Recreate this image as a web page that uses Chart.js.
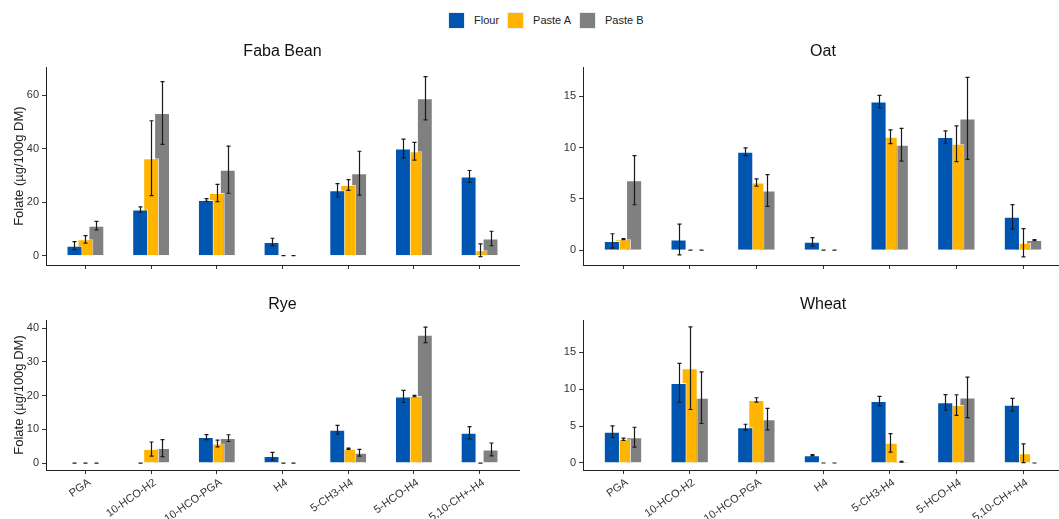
<!DOCTYPE html>
<html>
<head>
<meta charset="utf-8">
<script src="https://cdn.jsdelivr.net/npm/chart.js@4/dist/chart.umd.min.js"></script>
<style>
  html, body { margin: 0; padding: 0; background: #fff; width: 1059px; height: 519px; overflow: hidden; }
  canvas { position: absolute; }
  #legend { position: absolute; top: 12px; left: 448px; display: flex; align-items: center;
            font: 11px "Liberation Sans", Arial, sans-serif; color: #222; }
  .key { width: 17px; height: 17px; box-sizing: border-box; border: 1px solid #e8eef6; margin-right: 9px; }
  .lab { margin-right: 8px; line-height: 17px; }
</style>
</head>
<body>
<div id="legend"></div>
<script>
// Folate vitamers (x axis) and sample types (series)
const categories = ['PGA', '10-HCO-H2', '10-HCO-PGA', 'H4', '5-CH3-H4', '5-HCO-H4', '5,10-CH+-H4'];
const seriesNames = ['Flour', 'Paste A', 'Paste B'];
const seriesColors = ['#0055B0', '#FFB400', '#808080'];

// Faba Bean: means and standard deviations (µg/100g DM)
const fabaFlour    = [3.7, 17.2, 20.8, 5.1, 24.4, 40.0, 29.6];
const fabaFlourSd  = [1.5, 1.0, 0.5, 1.4, 2.5, 3.5, 2.2];
const fabaPasteA   = [6.1, 36.4, 23.4, 0, 26.4, 39.0, 2.0];
const fabaPasteASd = [1.4, 14.0, 3.2, 0, 2.0, 3.3, 2.4];
const fabaPasteB   = [11.2, 53.3, 32.1, 0, 30.8, 58.8, 6.4];
const fabaPasteBSd = [1.6, 11.7, 8.8, 0, 8.2, 8.1, 2.7];

// Oat
const oatFlour    = [0.9, 1.04, 9.6, 0.81, 14.5, 11.03, 3.25];
const oatFlourSd  = [0.7, 1.5, 0.37, 0.42, 0.6, 0.6, 1.2];
const oatPasteA   = [1.07, 0, 6.6, 0, 11.06, 10.38, 0.72];
const oatPasteASd = [0.05, 0, 0.35, 0, 0.67, 1.75, 1.37];
const oatPasteB   = [6.83, 0, 5.82, 0, 10.28, 12.85, 0.98];
const oatPasteBSd = [2.4, 0, 1.55, 0, 1.6, 4.0, 0.05];

// Rye
const ryeFlour    = [0, 0, 7.7, 2.07, 9.9, 19.75, 9.0];
const ryeFlourSd  = [0, 0, 0.75, 1.1, 1.3, 1.8, 1.8];
const ryePasteA   = [0, 4.15, 5.83, 0, 4.25, 19.85, 0];
const ryePasteASd = [0, 2.1, 1.0, 0, 0.2, 0.2, 0];
const ryePasteB   = [0, 4.44, 7.4, 0, 3.06, 38.0, 4.05];
const ryePasteBSd = [0, 2.5, 1.0, 0, 1.0, 2.3, 1.9];

// Wheat
const wheatFlour    = [4.23, 10.86, 4.86, 1.05, 8.4, 8.23, 7.9];
const wheatFlourSd  = [0.8, 2.65, 0.4, 0.08, 0.65, 1.05, 0.86];
const wheatPasteA   = [3.23, 12.86, 8.55, 0, 2.73, 7.86, 1.32];
const wheatPasteASd = [0.15, 5.6, 0.3, 0, 1.25, 1.4, 1.27];
const wheatPasteB   = [3.5, 8.86, 5.95, 0, 0.18, 8.9, 0];
const wheatPasteBSd = [1.35, 3.5, 1.45, 0, 0.05, 2.75, 0];

// Y tick labels per panel
const fabaTicks  = [0, 20, 40, 60];
const oatTicks   = [0, 5, 10, 15];
const ryeTicks   = [0, 10, 20, 30, 40];
const wheatTicks = [0, 5, 10, 15];

const yTitle = 'Folate (µg/100g DM)';
const FONT = '"Liberation Sans", Arial, sans-serif';
Chart.defaults.font.family = FONT;

// Legend
const legendEl = document.getElementById('legend');
seriesNames.forEach((name, i) => {
  const k = document.createElement('div');
  k.className = 'key';
  k.style.background = seriesColors[i];
  const t = document.createElement('div');
  t.className = 'lab';
  t.textContent = name;
  legendEl.appendChild(k);
  legendEl.appendChild(t);
});

// Mean ± SD whiskers drawn on top of each bar
const errorBars = {
  id: 'errorBars',
  afterDatasetsDraw(chart) {
    const { ctx } = chart;
    const y = chart.scales.y;
    ctx.save();
    ctx.strokeStyle = '#1a1a1a';
    ctx.lineWidth = 1.2;
    chart.data.datasets.forEach((ds, di) => {
      const meta = chart.getDatasetMeta(di);
      meta.data.forEach((bar, i) => {
        const v = ds.data[i].y, e = ds.errors[i];
        const x = Math.round(bar.x) + 0.5;
        const yTop = y.getPixelForValue(v + e);
        const yBot = y.getPixelForValue(v - e);
        const hw = 2;
        ctx.beginPath();
        ctx.moveTo(x, yTop); ctx.lineTo(x, yBot);
        ctx.moveTo(x - hw, yTop); ctx.lineTo(x + hw, yTop);
        ctx.moveTo(x - hw, yBot); ctx.lineTo(x + hw, yBot);
        ctx.stroke();
      });
    });
    ctx.restore();
  }
};

function makePanel(p) {
  const c = document.createElement('canvas');
  c.width = p.w; c.height = p.h;
  c.style.left = p.left + 'px';
  c.style.top = p.top + 'px';
  document.body.appendChild(c);

  // Dodged bars are a little wider than their spacing, so neighbours overlap
  // (Flour is drawn last and sits on top).
  const datasets = p.series.map((s, i) => ({
    label: seriesNames[i],
    data: s.values.map((v, j) => ({ x: j, y: v })),
    errors: s.sd,
    backgroundColor: seriesColors[i],
    borderColor: 'rgba(255,255,255,0.75)',
    borderWidth: 1,
    barPercentage: 1.45,
    categoryPercentage: 0.5
  }));

  new Chart(c, {
    type: 'bar',
    data: { datasets },
    plugins: [errorBars],
    options: {
      responsive: false,
      animation: false,
      devicePixelRatio: 1,
      layout: { padding: { left: 0, right: p.padR, top: 0, bottom: 0 } },
      plugins: {
        legend: { display: false },
        tooltip: { enabled: false },
        title: {
          display: true, text: p.title, fullSize: false,
          font: { size: 16, weight: 'normal', family: FONT, lineHeight: 1.2 },
          color: '#111',
          padding: { top: p.tTop, bottom: p.tBot }
        }
      },
      scales: {
        x: {
          type: 'linear', min: -0.6, max: 6.6, offset: false,
          afterBuildTicks: s => { s.ticks = categories.map((_, i) => ({ value: i })); },
          afterFit: s => { s.paddingLeft = 0; s.paddingRight = 0; s.height = p.xH; },
          grid: { display: true, drawOnChartArea: false, drawTicks: true, tickLength: 4,
                  tickColor: '#333', offset: false },
          border: { display: true, color: '#222', width: 1 },
          ticks: {
            display: p.labels, autoSkip: false, minRotation: 35, maxRotation: 35, padding: 2,
            labelOffset: 4,
            font: { size: 11, family: FONT }, color: '#333',
            callback: v => categories[v]
          }
        },
        y: {
          min: p.yMin, max: p.yMax,
          afterBuildTicks: s => { s.ticks = p.ticks.map(v => ({ value: v })); },
          afterFit: s => { s.width = p.yW; },
          grid: { display: true, drawOnChartArea: false, drawTicks: true, tickLength: 4, tickColor: '#333' },
          border: { display: true, color: '#222', width: 1 },
          ticks: { font: { size: 11, family: FONT }, color: '#333', padding: 3 },
          title: {
            display: p.yTitle, text: yTitle, color: '#222',
            font: { size: 13, family: FONT, lineHeight: 1.2 },
            padding: { top: 12, bottom: 0 }
          }
        }
      }
    }
  });
}

makePanel({
  title: 'Faba Bean', left: 0, top: 30, w: 530, h: 250, yW: 46, padR: 11, xH: 15,
  tTop: 12, tBot: 6, labels: false, yTitle: true, yMin: -3.5, yMax: 70.4, ticks: fabaTicks,
  series: [
    { values: fabaFlour, sd: fabaFlourSd },
    { values: fabaPasteA, sd: fabaPasteASd },
    { values: fabaPasteB, sd: fabaPasteBSd }
  ]
});
makePanel({
  title: 'Oat', left: 530, top: 30, w: 540, h: 250, yW: 53, padR: 7, xH: 15,
  tTop: 12, tBot: 6, labels: false, yTitle: false, yMin: -1.45, yMax: 17.85, ticks: oatTicks,
  series: [
    { values: oatFlour, sd: oatFlourSd },
    { values: oatPasteA, sd: oatPasteASd },
    { values: oatPasteB, sd: oatPasteBSd }
  ]
});
makePanel({
  title: 'Rye', left: 0, top: 280, w: 530, h: 239, yW: 46, padR: 11, xH: 49,
  tTop: 15, tBot: 5.8, labels: true, yTitle: true, yMin: -2.05, yMax: 42.4, ticks: ryeTicks,
  series: [
    { values: ryeFlour, sd: ryeFlourSd },
    { values: ryePasteA, sd: ryePasteASd },
    { values: ryePasteB, sd: ryePasteBSd }
  ]
});
makePanel({
  title: 'Wheat', left: 530, top: 280, w: 540, h: 239, yW: 53, padR: 7, xH: 49,
  tTop: 15, tBot: 5.8, labels: true, yTitle: false, yMin: -0.95, yMax: 19.4, ticks: wheatTicks,
  series: [
    { values: wheatFlour, sd: wheatFlourSd },
    { values: wheatPasteA, sd: wheatPasteASd },
    { values: wheatPasteB, sd: wheatPasteBSd }
  ]
});
</script>
</body>
</html>
